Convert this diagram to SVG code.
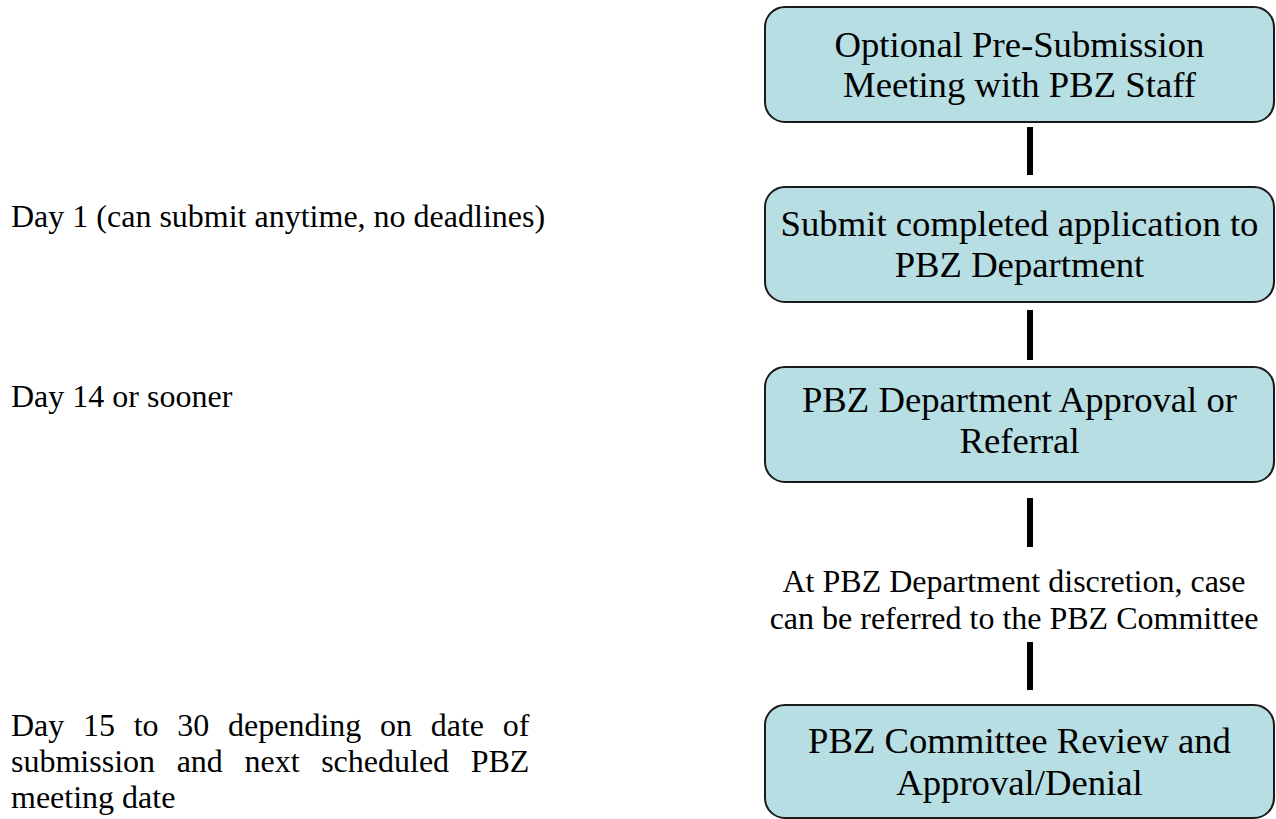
<svg xmlns="http://www.w3.org/2000/svg" width="1276" height="819" viewBox="0 0 1276 819">
<style>
  .box { fill: #B7DEE3; stroke: #1a1a1a; stroke-width: 2; }
  .bt { font-family: "Liberation Serif", "Times New Roman", serif; font-size: 36.7px; fill: #000; text-anchor: middle; }
  .lt { font-family: "Liberation Serif", "Times New Roman", serif; font-size: 32px; fill: #000; }
  .mt { font-family: "Liberation Serif", "Times New Roman", serif; font-size: 32px; fill: #000; text-anchor: middle; }
  .conn { stroke: #000; stroke-width: 6; fill: none; }
</style>
<rect width="1276" height="819" fill="#ffffff"/>

<g id="connectors">
  <line class="conn" x1="1030" y1="127" x2="1030" y2="175"/>
  <line class="conn" x1="1030" y1="310" x2="1030" y2="360"/>
  <line class="conn" x1="1030" y1="498" x2="1030" y2="547"/>
  <line class="conn" x1="1030" y1="642" x2="1030" y2="690"/>
</g>

<g id="node-presubmission">
  <rect class="box" x="765" y="7" width="509" height="115" rx="20" ry="20"/>
  <text class="bt" x="1019.5" y="57">Optional Pre-Submission</text>
  <text class="bt" x="1019.5" y="97">Meeting with PBZ Staff</text>
</g>

<g id="node-submit">
  <rect class="box" x="765" y="187" width="509" height="115" rx="20" ry="20"/>
  <text class="bt" x="1019.5" y="236">Submit completed application to</text>
  <text class="bt" x="1019.5" y="277">PBZ Department</text>
</g>

<g id="node-dept-approval">
  <rect class="box" x="765" y="367" width="509" height="115" rx="20" ry="20"/>
  <text class="bt" x="1019.5" y="412">PBZ Department Approval or</text>
  <text class="bt" x="1019.5" y="453">Referral</text>
</g>

<g id="node-referral-note">
  <text class="mt" x="1014" y="592">At PBZ Department discretion, case</text>
  <text class="mt" x="1014" y="629">can be referred to the PBZ Committee</text>
</g>

<g id="node-committee">
  <rect class="box" x="765" y="705" width="509" height="113" rx="20" ry="20"/>
  <text class="bt" x="1019.5" y="753">PBZ Committee Review and</text>
  <text class="bt" x="1019.5" y="795">Approval/Denial</text>
</g>

<g id="timeline-labels">
  <text class="lt" x="11" y="227">Day 1 (can submit anytime, no deadlines)</text>
  <text class="lt" x="11" y="407">Day 14 or sooner</text>
  <text class="lt" x="11" y="736" word-spacing="10.7">Day 15 to 30 depending on date of</text>
  <text class="lt" x="11" y="772" word-spacing="13.6">submission and next scheduled PBZ</text>
  <text class="lt" x="11" y="808">meeting date</text>
</g>
</svg>
